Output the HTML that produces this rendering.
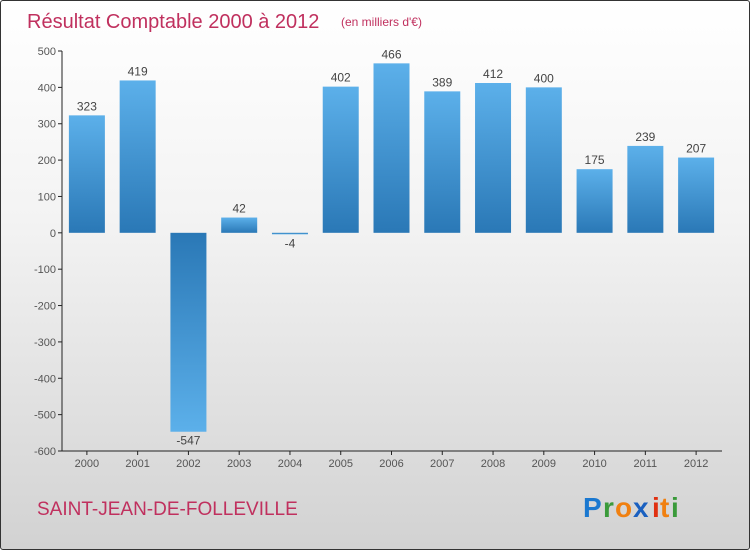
<!DOCTYPE html>
<html><head><meta charset="utf-8"><style>
body{margin:0}
#c{width:750px;height:550px;position:relative;box-sizing:border-box;border:1px solid #333;border-radius:3px;background:linear-gradient(#ffffff,#f3f3f3 40%,#d2d2d2);font-family:"Liberation Sans",sans-serif;overflow:hidden}
</style></head><body>
<div id="c">
<svg width="750" height="550" id="s">
<defs>
<linearGradient id="gp" x1="0" y1="0" x2="0" y2="1"><stop offset="0" stop-color="#5cb0ea"/><stop offset="1" stop-color="#2a78b6"/></linearGradient>
<linearGradient id="gn" x1="0" y1="0" x2="0" y2="1"><stop offset="0" stop-color="#2a78b6"/><stop offset="1" stop-color="#5cb0ea"/></linearGradient>
</defs>
<text x="26" y="27" font-size="20" fill="#c0305e">Résultat Comptable 2000 à 2012</text>
<text x="340" y="25" font-size="12" fill="#c0305e">(en milliers d'€)</text>
<text x="36" y="514" font-size="19" fill="#c0305e">SAINT-JEAN-DE-FOLLEVILLE</text>
<g font-size="28" font-weight="bold" font-family="'Liberation Sans',sans-serif">
<text x="582" y="516" fill="#1a78d0">P</text><text x="602" y="516" fill="#3a9a3a">r</text><text x="614" y="516" fill="#f08010">o</text><text x="632" y="516" fill="#1a60c0">x</text><text x="651" y="516" fill="#e03010">i</text><text x="659" y="516" fill="#f08010">t</text><text x="670" y="516" fill="#3a9a3a">i</text>
</g>
</svg>
</div>
<script>
const years=["2000","2001","2002","2003","2004","2005","2006","2007","2008","2009","2010","2011","2012"];
const values=[323,419,-547,42,-4,402,466,389,412,400,175,239,207];
const yTicks=[500,400,300,200,100,0,-100,-200,-300,-400,-500,-600];
const s=document.getElementById('s');
const NS='http://www.w3.org/2000/svg';
const x0=61,x1=721,yTop=50,yBot=450,vMax=500,vMin=-600;
const y=v=>yTop+(vMax-v)/(vMax-vMin)*(yBot-yTop);
const bw=(x1-x0)/years.length;
const xc=i=>x0+bw*(i+0.5);
function mk(t,a){const e=document.createElementNS(NS,t);for(const k in a)e.setAttribute(k,a[k]);s.appendChild(e);return e;}
let e;
e=mk('line',{x1:x0,y1:yTop,x2:x0,y2:yBot,stroke:'#222'});


e=mk('line',{x1:x0,y1:yBot,x2:x1,y2:yBot,stroke:'#222'});


yTicks.forEach(v=>{
 e=mk('line',{x1:x0-4,y1:y(v),x2:x0,y2:y(v),stroke:'#222'});
 
 
 e=mk('text',{x:x0-6,y:y(v)+4,'font-size':11,fill:'#555','text-anchor':'end'});
 e.textContent=v;
 
 
});
years.forEach((yr,i)=>{
 const v=values[i],cx=xc(i)-0.5,w=36;
 const top=Math.min(y(v),y(0)),h=Math.max(Math.abs(y(v)-y(0)),1.5);
 e=mk('rect',{x:cx-w/2,y:top,width:w,height:h,fill:v>=0?'url(#gp)':'url(#gn)'});
 
 
 e=mk('text',{x:cx,y:v>=0?y(v)-5:y(v)+13,'font-size':12,fill:'#444','text-anchor':'middle'});
 e.textContent=v;
 
 
 e=mk('line',{x1:cx,y1:yBot,x2:cx,y2:yBot+4,stroke:'#222'});
 
 
 e=mk('text',{x:cx,y:yBot+16,'font-size':11,fill:'#555','text-anchor':'middle'});
 e.textContent=yr;
 
 
});
</script>
</body></html>
